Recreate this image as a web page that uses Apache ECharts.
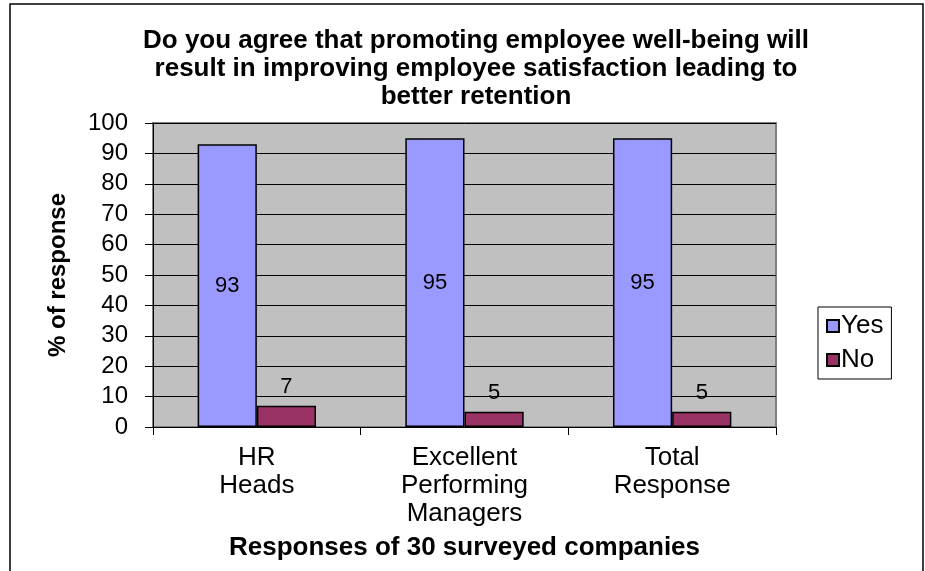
<!DOCTYPE html>
<html>
<head>
<meta charset="utf-8">
<script src="https://cdn.jsdelivr.net/npm/echarts@6/dist/echarts.min.js"></script>
<style>
  html, body { margin: 0; padding: 0; background: #fff; }
  #chart { width: 925px; height: 571px; }
</style>
</head>
<body>
<div id="chart"></div>
<script>
// Survey groups along the x axis
const categories = ['HR\nHeads', 'Excellent\nPerforming\nManagers', 'Total\nResponse'];
// Percentage of respondents answering each way
const yesValues = [93, 95, 95];
const noValues = [7, 5, 5];
// Y axis range and step
const yMin = 0;
const yMax = 100;
const yStep = 10;

const FONT = '"Liberation Sans", Arial, sans-serif';

const chart = echarts.init(document.getElementById('chart'), null, { renderer: 'canvas' });

chart.setOption({
  animation: false,
  backgroundColor: '#ffffff',
  textStyle: { fontFamily: FONT, color: '#000' },
  title: {
    text: 'Do you agree that promoting employee well-being will\nresult in improving employee satisfaction leading to\nbetter retention',
    left: 471,
    top: 22,
    textAlign: 'center',
    textStyle: { fontFamily: FONT, fontSize: 26, fontWeight: 'bold', lineHeight: 28, color: '#000' }
  },
  graphic: [
    {
      type: 'rect',
      shape: { x: 10, y: 4, width: 913, height: 600 },
      style: { fill: 'none', stroke: '#000', lineWidth: 1.5 },
      silent: true,
      z: -1
    }
  ],
  legend: {
    orient: 'vertical',
    left: 818,
    top: 307,
    padding: [6, 8, 6, 8],
    itemGap: 8,
    itemWidth: 12,
    itemHeight: 12,
    icon: 'rect',
    borderColor: '#000',
    borderWidth: 1,
    backgroundColor: '#fff',
    textStyle: { fontFamily: FONT, fontSize: 26, color: '#000', padding: [0, 0, 0, -3] },
    data: ['Yes', 'No']
  },
  grid: {
    left: 153,
    top: 123,
    right: 149,
    bottom: 144,
    show: true,
    backgroundColor: '#c0c0c0',
    borderColor: '#808080',
    borderWidth: 2
  },
  xAxis: {
    type: 'category',
    data: categories,
    name: 'Responses of 30 surveyed companies',
    nameLocation: 'middle',
    nameGap: 108,
    nameTextStyle: { fontFamily: FONT, fontSize: 26, fontWeight: 'bold', color: '#000' },
    axisLine: { lineStyle: { color: '#000', width: 1 } },
    axisTick: { show: true, length: 8, lineStyle: { color: '#000' } },
    axisLabel: { fontFamily: FONT, fontSize: 26, lineHeight: 28, color: '#000', margin: 17, interval: 0 }
  },
  yAxis: {
    type: 'value',
    min: yMin,
    max: yMax,
    interval: yStep,
    name: '% of response',
    nameLocation: 'middle',
    nameGap: 83,
    nameRotate: 90,
    nameTextStyle: { fontFamily: FONT, fontSize: 24, fontWeight: 'bold', color: '#000' },
    axisLine: { show: true, lineStyle: { color: '#000', width: 1 } },
    axisTick: { show: true, length: 8, lineStyle: { color: '#000' } },
    axisLabel: { fontFamily: FONT, fontSize: 24, color: '#000', margin: 25 },
    splitLine: { show: true, lineStyle: { color: '#000', width: 1 } }
  },
  series: [
    {
      name: 'Yes',
      type: 'bar',
      data: yesValues,
      barGap: '0%',
      barCategoryGap: '43%',
      itemStyle: { color: '#9999ff', borderColor: '#000', borderWidth: 1.5 },
      label: { show: true, position: 'inside', fontFamily: FONT, fontSize: 22, color: '#000' }
    },
    {
      name: 'No',
      type: 'bar',
      data: noValues,
      itemStyle: { color: '#993366', borderColor: '#000', borderWidth: 1.5 },
      label: { show: true, position: 'top', distance: 8, fontFamily: FONT, fontSize: 22, color: '#000' }
    }
  ]
});
</script>
</body>
</html>
